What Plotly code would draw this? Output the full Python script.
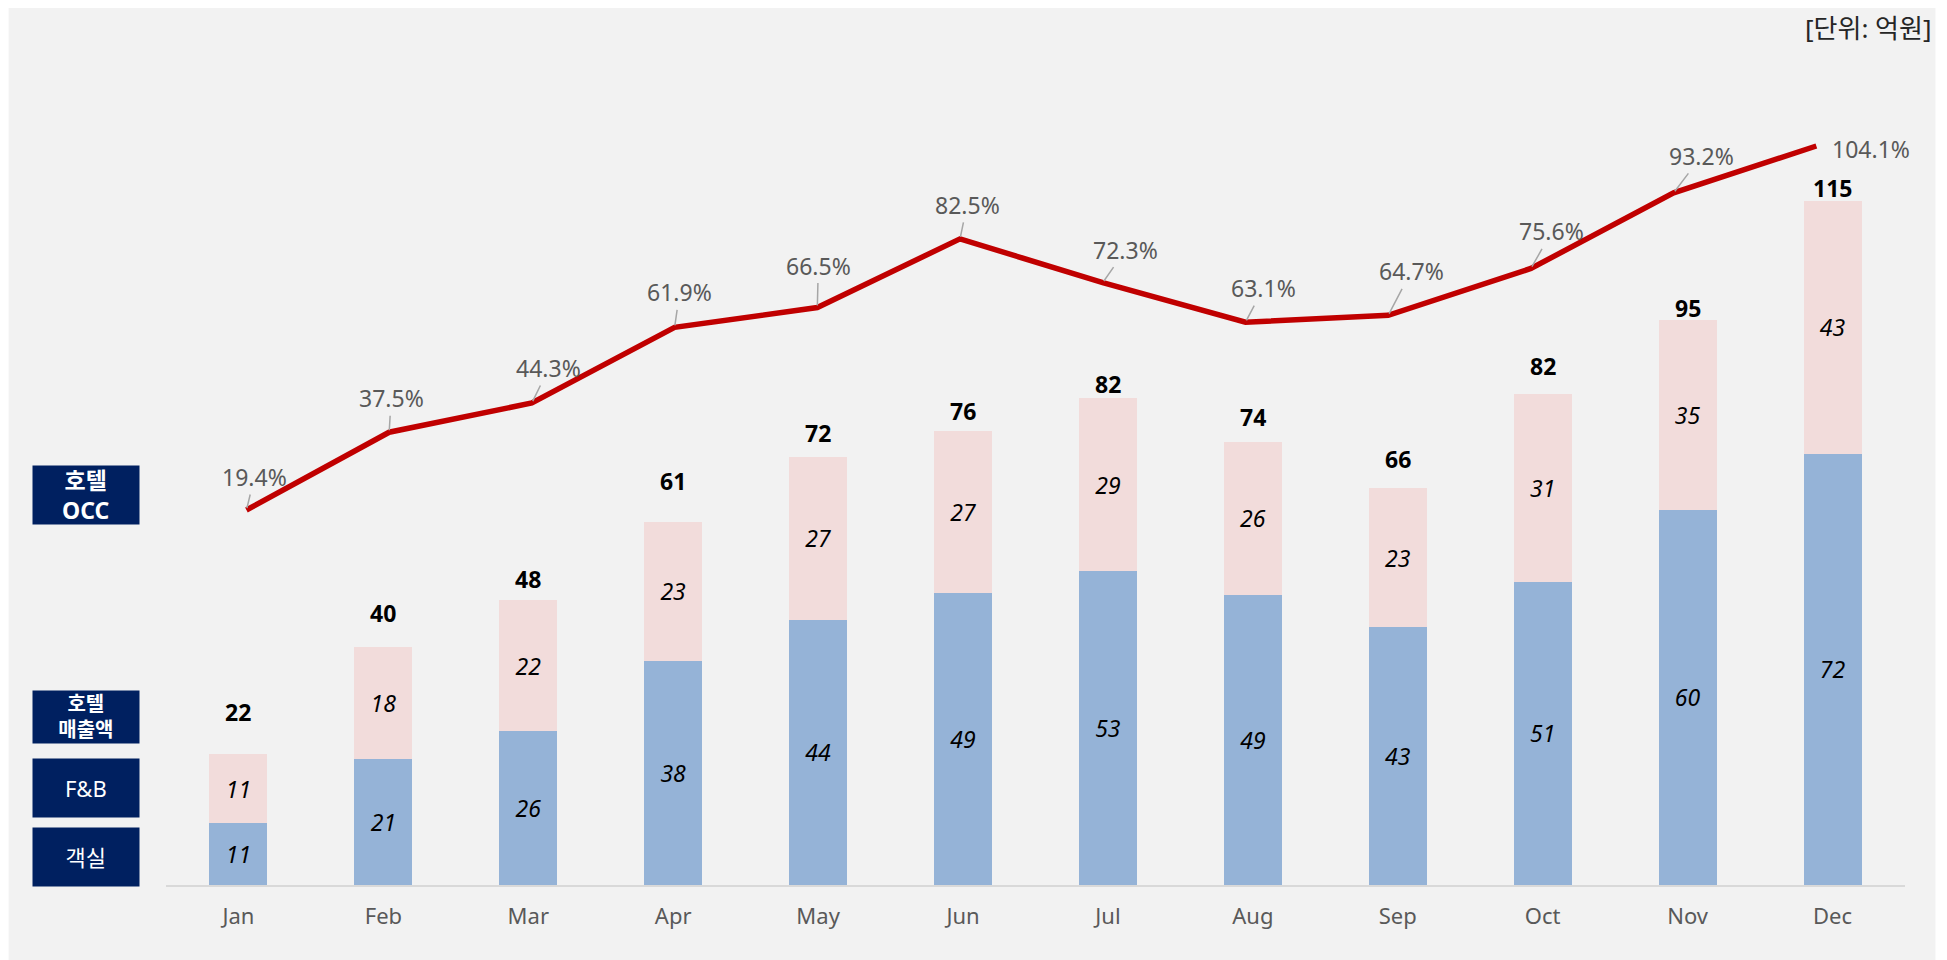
import plotly.graph_objects as go

# ---------------- data ----------------
months = ["Jan", "Feb", "Mar", "Apr", "May", "Jun", "Jul", "Aug", "Sep", "Oct", "Nov", "Dec"]
room_vals = [10.4, 21.2, 25.8, 37.7, 44.6, 49.0, 52.7, 48.8, 43.3, 51.0, 63.1, 72.5]
fnb_vals = [11.6, 18.8, 22.1, 23.3, 27.3, 27.3, 29.2, 25.6, 23.4, 31.5, 31.9, 42.5]
room_labels = ["11", "21", "26", "38", "44", "49", "53", "49", "43", "51", "60", "72"]
fnb_labels = ["11", "18", "22", "23", "27", "27", "29", "26", "23", "31", "35", "43"]
total_vals = [22, 40, 48, 61, 72, 76, 82, 74, 66, 82, 95, 115]
occ_vals = [19.4, 37.5, 44.3, 61.9, 66.5, 82.5, 72.3, 63.1, 64.7, 75.6, 93.2, 104.1]

# ---------------- styles / label placement (pixels) ----------------
total_dy = [42, 34, 21, 41, 24, 20, 14, 25, 29, 28, 12, 13]
occ_dx = [8, 2, 17, 5, 1, 7, 23, 18, 23, 21, 28, 55]
occ_dy = [-33, -34, -35, -35, -42, -34, -33, -34, -44, -37, -37, 3]

FONT = "Noto Sans, Noto Sans CJK KR, sans-serif"
OFF = 8  # page body margin
W, H = 1947 - OFF, 960 - OFF
L = 165.5 - OFF
R = W - (1905.5 - OFF)
T = 40 - OFF
B = H - (885 - OFF)
PW, PH = W - L - R, H - T - B

def px_x(x):
    return (x - OFF - L) / PW

def px_y(y):
    return (H - B - (y - OFF)) / PH

fig = go.Figure()

x_idx = list(range(len(months)))

fig.add_trace(go.Bar(
    x=x_idx, y=room_vals, width=0.4, marker=dict(color="#95b3d7", line=dict(width=0)),
    text=room_labels, textposition="inside", insidetextanchor="middle", textangle=0,
    textfont=dict(family=FONT, size=23, color="#000000", style="italic"),
    name="객실", hoverinfo="skip",
))
fig.add_trace(go.Bar(
    x=x_idx, y=fnb_vals, width=0.4, marker=dict(color="#f2dcdb", line=dict(width=0)),
    text=fnb_labels, textposition="inside", insidetextanchor="middle", textangle=0,
    textfont=dict(family=FONT, size=23, color="#000000", style="italic"),
    name="F&B", hoverinfo="skip",
))
fig.add_trace(go.Scatter(
    x=x_idx, y=occ_vals, mode="lines", xaxis="x2", yaxis="y2",
    line=dict(color="#c00000", width=5.5), name="OCC", hoverinfo="skip",
))

annotations = []
# totals above bars
for i, (tv, dy) in enumerate(zip(total_vals, total_dy)):
    annotations.append(dict(
        x=i, y=room_vals[i] + fnb_vals[i], xref="x", yref="y", text=f"<b>{tv}</b>",
        showarrow=False, yanchor="middle", xanchor="center", yshift=dy,
        font=dict(family=FONT, size=23, color="#000000"),
    ))
# occupancy labels with leader lines
for i, (v, dx, dy) in enumerate(zip(occ_vals, occ_dx, occ_dy)):
    annotations.append(dict(
        x=i, y=v, xref="x2", yref="y2", text=f"{v:.1f}%",
        showarrow=True, arrowhead=0, arrowwidth=1.5,
        arrowcolor="#a6a6a6" if i < len(occ_vals) - 1 else "rgba(0,0,0,0)",
        ax=dx, ay=dy, standoff=2,
        font=dict(family=FONT, size=23, color="#595959"),
    ))

# left side navy label boxes
boxes = [
    ("<b>호텔<br>OCC</b>", 466, 523.7, 23),
    ("<b>호텔<br>매출액</b>", 691, 742.7, 20),
    ("F&B", 759, 816.7, 22),
    ("객실", 828, 885.7, 22),
]
for txt, y0, y1, fs in boxes:
    annotations.append(dict(
        x=px_x(31), y=px_y((y0 + y1) / 2), xref="paper", yref="paper",
        xanchor="left", yanchor="middle", text=txt, showarrow=False,
        width=105.7, height=y1 - y0, bgcolor="#002060", borderpad=0,
        align="center", valign="middle",
        font=dict(family=FONT, size=fs, color="#ffffff"),
    ))

# unit label
annotations.append(dict(
    x=px_x(1935), y=px_y(28), xref="paper", yref="paper", xanchor="right", yanchor="middle",
    text="[단위: 억원]", showarrow=False, font=dict(family=FONT, size=26, color="#262626"),
))

shapes = [dict(
    type="rect", xref="paper", yref="paper", layer="below",
    x0=px_x(OFF), x1=px_x(1936), y0=px_y(960), y1=px_y(OFF),
    fillcolor="#f2f2f2", line=dict(width=0),
)]

# line axis geometry (line category spacing differs slightly from bars)
x2_start = -(246 - 165.5) / 142.8
x2_end = x2_start + PW / 142.8
y2_lo = 19.4 - (885 - 510) / 4.2975
y2_hi = 19.4 + (510 - 40) / 4.2975

fig.update_layout(
    width=W, height=H,
    margin=dict(l=L, r=R, t=T, b=B, autoexpand=False),
    paper_bgcolor="#ffffff", plot_bgcolor="rgba(0,0,0,0)",
    barmode="stack", showlegend=False,
    font=dict(family=FONT),
    xaxis=dict(
        range=[-0.5, 11.5], tickvals=x_idx, ticktext=months, showgrid=False, zeroline=False,
        showline=True, linecolor="#d9d9d9", linewidth=2, ticks="",
        tickfont=dict(family=FONT, size=22, color="#595959"), ticklabelstandoff=11,
        fixedrange=True,
    ),
    yaxis=dict(range=[0, PH / 5.95], visible=False, showgrid=False, zeroline=False),
    xaxis2=dict(range=[x2_start, x2_end], overlaying="x", visible=False),
    yaxis2=dict(range=[y2_lo, y2_hi], overlaying="y", visible=False),
    annotations=annotations,
    shapes=shapes,
)

fig.write_html("out.html")
